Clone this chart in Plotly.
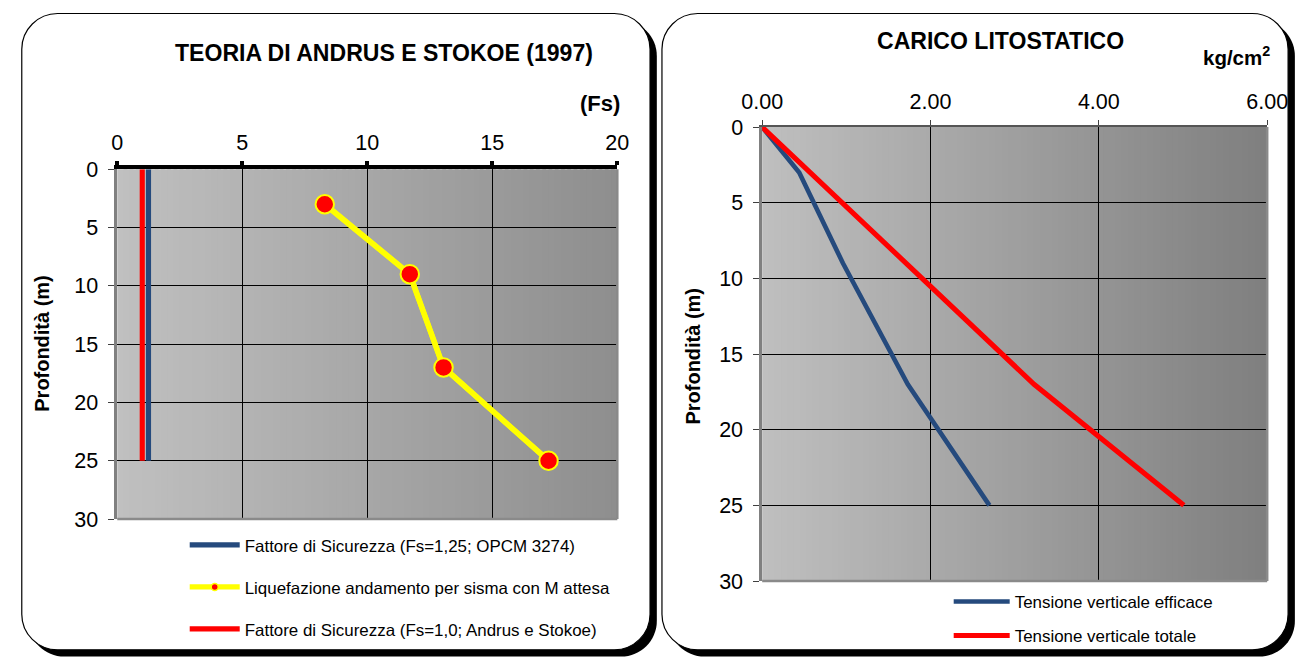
import numpy as np
import plotly.graph_objects as go

# ---------------- data ----------------
# Left chart: safety factor vs depth
depth_liq = [3, 9, 17, 25]
fs_liq = [8.3, 11.7, 13.05, 17.25]
depth_fs_lines = [0, 25]
fs_opcm = [1.25, 1.25]
fs_andrus = [1.0, 1.0]

# Right chart: lithostatic load vs depth
depth_lito = [0, 3, 9, 17, 25]
sigma_eff = [0.0, 0.44, 0.96, 1.73, 2.70]
sigma_tot = [0.0, 0.57, 1.71, 3.23, 5.01]

left_xticks = [0, 5, 10, 15, 20]
right_xticks = [0, 2, 4, 6]
depth_ticks = [0, 5, 10, 15, 20, 25, 30]

W, H = 1312, 659
# the page is photographed scaled and centred; compensate so that
# positions given in target-picture pixels land where intended
SX, SY = 1280 / 1312, 640 / 659
OX, OY = 16, 9.5
FONT = "Liberation Sans, Arial, sans-serif"
BLUE = "#254a7d"
RED = "#ff0000"
YELLOW = "#ffff00"


def dx(r):
    return (r - OX) / SX


def dy(r):
    return (r - OY) / SY


def px(r):
    return dx(r) / W


def py(r):
    return 1 - dy(r) / H


def fs(v):
    return v / SX


def rounded_path(x0, y0, x1, y1, r):
    # design pixel coordinates (y down) -> paper path with rounded corners
    k = 0.45
    P = lambda x, y: f"{x / W:.5f},{1 - y / H:.5f}"
    s = f"M {P(x0 + r, y0)} L {P(x1 - r, y0)} "
    s += f"C {P(x1 - r * k, y0)} {P(x1, y0 + r * k)} {P(x1, y0 + r)} "
    s += f"L {P(x1, y1 - r)} "
    s += f"C {P(x1, y1 - r * k)} {P(x1 - r * k, y1)} {P(x1 - r, y1)} "
    s += f"L {P(x0 + r, y1)} "
    s += f"C {P(x0 + r * k, y1)} {P(x0, y1 - r * k)} {P(x0, y1 - r)} "
    s += f"L {P(x0, y0 + r)} "
    s += f"C {P(x0, y0 + r * k)} {P(x0 + r * k, y0)} {P(x0 + r, y0)} Z"
    return s


# plot area geometry (target pixels)
L_X0, L_X1, L_Y0, L_Y1 = 113, 617, 169, 521.5
R_X0, R_X1, R_Y0, R_Y1 = 763, 1272, 126.5, 584

fig = go.Figure()

# ---- left traces ----
fig.add_trace(go.Scatter(
    x=fs_andrus, y=depth_fs_lines, mode="lines",
    line=dict(color=RED, width=fs(5)),
    name="Fattore di Sicurezza (Fs=1,0; Andrus e Stokoe)",
    xaxis="x", yaxis="y", legend="legend", legendgroup="c", legendrank=3))
fig.add_trace(go.Scatter(
    x=fs_opcm, y=depth_fs_lines, mode="lines",
    line=dict(color=BLUE, width=fs(5)),
    name="Fattore di Sicurezza (Fs=1,25; OPCM 3274)",
    xaxis="x", yaxis="y", legend="legend", legendgroup="a", legendrank=1))
fig.add_trace(go.Scatter(
    x=fs_liq, y=depth_liq, mode="lines+markers",
    line=dict(color=YELLOW, width=fs(5)),
    marker=dict(color=RED, size=7, line=dict(color=YELLOW, width=1.5)),
    name="Liquefazione andamento per sisma con M attesa",
    xaxis="x", yaxis="y", legend="legend", legendgroup="b", legendrank=2))
fig.add_trace(go.Scatter(
    x=fs_liq, y=depth_liq, mode="lines+markers",
    line=dict(color=YELLOW, width=fs(5.5)),
    marker=dict(color=RED, size=fs(18), line=dict(color=YELLOW, width=2)),
    showlegend=False, xaxis="x", yaxis="y"))

# ---- right traces ----
fig.add_trace(go.Scatter(
    x=sigma_eff, y=depth_lito, mode="lines",
    line=dict(color=BLUE, width=fs(4.5)),
    name="Tensione verticale efficace",
    xaxis="x2", yaxis="y2", legend="legend2", legendgroup="d"))
fig.add_trace(go.Scatter(
    x=sigma_tot, y=depth_lito, mode="lines",
    line=dict(color=RED, width=fs(5)),
    name="Tensione verticale totale",
    xaxis="x2", yaxis="y2", legend="legend2", legendgroup="e"))

shapes = []
# frames with shadows (design pixel coordinates, clamped to the canvas)
frames = [(0.8, dy(12), dx(650), 663),
          (dx(662), dy(12), 1309, 663)]
for (x0, y0, x1, y1) in frames:
    shapes.append(dict(type="path", xref="paper", yref="paper",
                       path=rounded_path(x0 + 7, y0 + 7, x1 + 7, y1 + 7, 37),
                       fillcolor="black", line=dict(width=0), layer="below"))
    shapes.append(dict(type="path", xref="paper", yref="paper",
                       path=rounded_path(x0, y0, x1, y1, 37),
                       fillcolor="white", line=dict(color="black", width=1.2),
                       layer="below"))

# gradient backgrounds
N = 80
for xa, ya, c0, c1 in [("x", "y", 192, 142), ("x2", "y2", 191, 127)]:
    for i in range(N):
        v = int(round(c0 + (c1 - c0) * (i + 0.5) / N))
        shapes.append(dict(type="rect", xref=f"{xa} domain", yref=f"{ya} domain",
                           x0=i / N, x1=min((i + 1.6) / N, 1), y0=0, y1=1,
                           fillcolor=f"rgb({v},{v},{v})", line=dict(width=0),
                           layer="below"))
# gray borders (right and bottom)
for xa, ya in [("x", "y"), ("x2", "y2")]:
    shapes.append(dict(type="line", xref=f"{xa} domain", yref=f"{ya} domain",
                       x0=1, x1=1, y0=0, y1=1, line=dict(color="#8a8a8a", width=2.5)))
    shapes.append(dict(type="line", xref=f"{xa} domain", yref=f"{ya} domain",
                       x0=0, x1=1, y0=0, y1=0, line=dict(color="#8a8a8a", width=2.5)))

tickfont = dict(family=FONT, size=fs(21), color="black")


def ann(text, x, y, size, angle=0):
    return dict(text=text, x=px(x), y=py(y), xref="paper", yref="paper",
                xanchor="center", yanchor="middle", showarrow=False,
                textangle=angle, font=dict(family=FONT, size=fs(size), color="black"))


fig.update_layout(
    width=W, height=H, margin=dict(l=0, r=0, t=0, b=0),
    paper_bgcolor="white", plot_bgcolor="rgba(0,0,0,0)",
    font=dict(family=FONT, color="black"),
    shapes=shapes,
    xaxis=dict(domain=[px(L_X0), px(L_X1)], anchor="y", side="top",
               range=[0, 20], tickvals=left_xticks, showgrid=True,
               gridcolor="black", gridwidth=1, zeroline=False,
               showline=True, linecolor="black", linewidth=4,
               ticks="outside", ticklen=4, tickwidth=4, tickcolor="black",
               tickfont=tickfont, ticklabelstandoff=3),
    yaxis=dict(domain=[py(L_Y1), py(L_Y0)], anchor="x", range=[30, 0],
               tickvals=depth_ticks, showgrid=True, gridcolor="black",
               gridwidth=1, zeroline=False, showline=True,
               linecolor="#808080", linewidth=2.5, ticks="outside",
               ticklen=6, tickwidth=1, tickcolor="#404040",
               tickfont=tickfont, ticklabelstandoff=6),
    xaxis2=dict(domain=[px(R_X0), px(R_X1)], anchor="y2", side="top",
                range=[0, 6], tickvals=right_xticks, tickformat=".2f",
                showgrid=True, gridcolor="black", gridwidth=1, zeroline=False,
                showline=True, linecolor="#555555", linewidth=1.5,
                ticks="outside", ticklen=5, tickwidth=1, tickcolor="#404040",
                tickfont=tickfont, ticklabelstandoff=3),
    yaxis2=dict(domain=[py(R_Y1), py(R_Y0)], anchor="x2", range=[30, 0],
                tickvals=depth_ticks, showgrid=True, gridcolor="black",
                gridwidth=1, zeroline=False, showline=True,
                linecolor="#808080", linewidth=2.5, ticks="outside",
                ticklen=6, tickwidth=1, tickcolor="#404040",
                tickfont=tickfont, ticklabelstandoff=6),
    legend=dict(x=px(181), y=py(530), xanchor="left", yanchor="top",
                bgcolor="rgba(0,0,0,0)", font=dict(family=FONT, size=fs(16.5)),
                traceorder="grouped", tracegroupgap=17, itemwidth=50),
    legend2=dict(x=px(951), y=py(587), xanchor="left", yanchor="top",
                 bgcolor="rgba(0,0,0,0)", font=dict(family=FONT, size=fs(16.5)),
                 traceorder="grouped", tracegroupgap=9, itemwidth=56),
    annotations=[
        ann("<b>TEORIA DI ANDRUS E STOKOE (1997)</b>", 382, 52, 22.5),
        ann("<b>(Fs)</b>", 600, 103, 21.5),
        ann("<b>Profondità (m)</b>", 37, 345, 19.5, -90),
        ann("<b>CARICO LITOSTATICO</b>", 1003, 40, 22.5),
        ann("<b>kg/cm<sup>2</sup></b>", 1241, 55, 20),
        ann("<b>Profondità (m)</b>", 693, 358, 19.5, -90),
    ],
)

fig.write_html("out.html", config={"displayModeBar": False},
               post_script="document.body.style.margin='0';"
                           "document.body.style.overflow='hidden';")
